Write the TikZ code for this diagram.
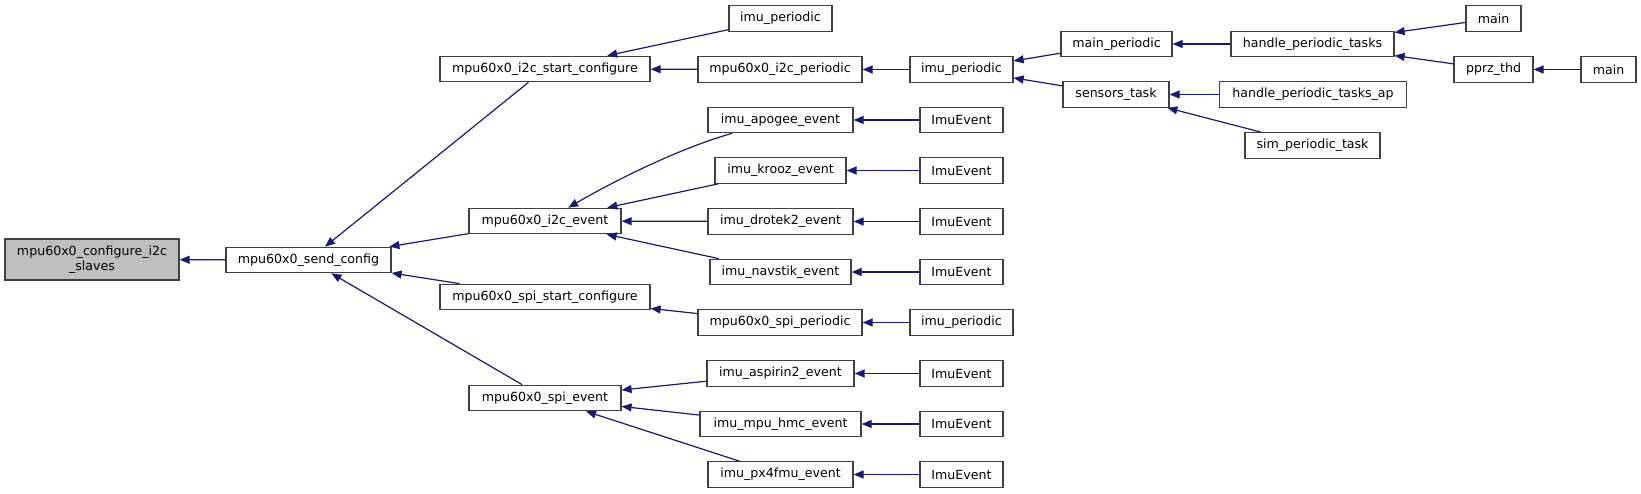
\documentclass[tikz,border=0pt]{standalone}
\usepackage{fontspec}
\setmainfont{DejaVu Sans}
\usetikzlibrary{arrows.meta}
\definecolor{edgecol}{HTML}{191970}
\definecolor{boxline}{HTML}{404040}
\definecolor{rootfill}{HTML}{BFBFBF}
\begin{document}
\begin{tikzpicture}[x=1pt,y=-1pt,
  fn/.style={draw=boxline, line width=1.2pt, fill=white, inner sep=0pt,
    minimum height=25.5pt, font=\fontsize{12.6}{14.5}\selectfont, align=center},
  rootfn/.style={fn, fill=rootfill, minimum height=41pt},
  calls/.style={draw=edgecol, line width=1.2pt, {Triangle[length=10pt,width=8pt]}-}]
\useasboundingbox (0,0) rectangle (1641,493);

% column 0/1
\node[rootfn, minimum width=174pt] (conf) at (92,259.5) {mpu60x0\_configure\_i2c\\\_slaves};
\node[fn, minimum width=165pt] (send) at (308.5,260) {mpu60x0\_send\_config};
% column 2
\node[fn, minimum width=210pt] (i2cstart) at (545,69) {mpu60x0\_i2c\_start\_configure};
\node[fn, minimum width=152pt] (i2cevent) at (545,221) {mpu60x0\_i2c\_event};
\node[fn, minimum width=210pt] (spistart) at (545,297) {mpu60x0\_spi\_start\_configure};
\node[fn, minimum width=152pt] (spievent) at (545,398) {mpu60x0\_spi\_event};
% column 3
\node[fn, minimum width=103pt] (ipa) at (780.5,18.5) {imu\_periodic};
\node[fn, minimum width=164pt] (i2cper) at (780,69.5) {mpu60x0\_i2c\_periodic};
\node[fn, minimum width=145pt] (apogee) at (780.5,120) {imu\_apogee\_event};
\node[fn, minimum width=131pt] (krooz) at (780.5,170.5) {imu\_krooz\_event};
\node[fn, minimum width=145pt] (drotek) at (780.5,221.5) {imu\_drotek2\_event};
\node[fn, minimum width=141pt] (navstik) at (780.5,272) {imu\_navstik\_event};
\node[fn, minimum width=164pt] (spiper) at (780,322.5) {mpu60x0\_spi\_periodic};
\node[fn, minimum width=147pt] (aspirin) at (780.5,373.5) {imu\_aspirin2\_event};
\node[fn, minimum width=161pt] (hmc) at (780.5,424) {imu\_mpu\_hmc\_event};
\node[fn, minimum width=145pt] (px4) at (780.5,474.5) {imu\_px4fmu\_event};
% column 4
\node[fn, minimum width=103pt] (ipb) at (961.5,69.5) {imu\_periodic};
\node[fn, minimum width=83pt] (ea) at (961.5,120) {ImuEvent};
\node[fn, minimum width=83pt] (eb) at (961.5,170.5) {ImuEvent};
\node[fn, minimum width=83pt] (ec) at (961.5,221.5) {ImuEvent};
\node[fn, minimum width=83pt] (ed) at (961.5,272) {ImuEvent};
\node[fn, minimum width=103pt] (ipc) at (961.5,322.5) {imu\_periodic};
\node[fn, minimum width=83pt] (ee) at (961.5,373.5) {ImuEvent};
\node[fn, minimum width=83pt] (ef) at (961.5,424) {ImuEvent};
\node[fn, minimum width=83pt] (eg) at (961.5,474.5) {ImuEvent};
% column 5
\node[fn, minimum width=111pt] (mainper) at (1116.5,44) {main\_periodic};
\node[fn, minimum width=106pt] (sensors) at (1116,94.5) {sensors\_task};
% column 6
\node[fn, minimum width=163pt] (hpt) at (1312.5,44) {handle\_periodic\_tasks};
\node[fn, minimum width=187.5pt] (hptap) at (1313,94.5) {handle\_periodic\_tasks\_ap};
\node[fn, minimum width=135pt] (sim) at (1312.5,145.5) {sim\_periodic\_task};
% column 7/8
\node[fn, minimum width=55pt] (maina) at (1493.5,18.5) {main};
\node[fn, minimum width=79pt] (pprz) at (1493.5,69.5) {pprz\_thd};
\node[fn, minimum width=55pt] (mainb) at (1608.5,69.5) {main};

% connectors (arrow at the called function)
\draw[calls] (conf) -- (send);
\draw[calls] (send) -- (i2cstart);
\draw[calls] (send) -- (i2cevent);
\draw[calls] (send) -- (spistart);
\draw[calls] (send) -- (spievent);
\draw[calls] (i2cstart) -- (ipa);
\draw[calls] (i2cstart) -- (i2cper);
\draw[calls] (i2cper) -- (ipb);
\draw[calls] (ipb) -- (mainper);
\draw[calls] (ipb) -- (sensors);
\draw[calls] (mainper) -- (hpt);
\draw[calls] (hpt) -- (maina);
\draw[calls] (hpt) -- (pprz);
\draw[calls] (pprz) -- (mainb);
\draw[calls] (sensors) -- (hptap);
\draw[calls] (sensors) -- (sim);
\draw[calls] (i2cevent) .. controls (630,172) and (690,145) .. (apogee);
\draw[calls] (i2cevent) -- (krooz);
\draw[calls] (i2cevent) -- (drotek);
\draw[calls] (i2cevent) -- (navstik);
\draw[calls] (apogee) -- (ea);
\draw[calls] (krooz) -- (eb);
\draw[calls] (drotek) -- (ec);
\draw[calls] (navstik) -- (ed);
\draw[calls] (spistart) -- (spiper);
\draw[calls] (spiper) -- (ipc);
\draw[calls] (spievent) -- (aspirin);
\draw[calls] (spievent) -- (hmc);
\draw[calls] (spievent) -- (px4);
\draw[calls] (aspirin) -- (ee);
\draw[calls] (hmc) -- (ef);
\draw[calls] (px4) -- (eg);
\end{tikzpicture}
\end{document}
